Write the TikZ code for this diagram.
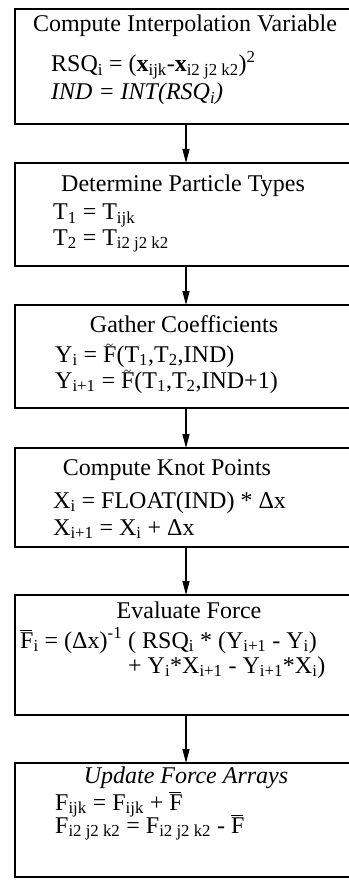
\documentclass[tikz,border=0pt]{standalone}
\usepackage{fontspec}
\setmainfont{Liberation Serif}
\usepackage{tikz}
\usetikzlibrary{arrows.meta, positioning}
\newcommand{\dn}[1]{\textsubscript{#1}}
\newcommand{\up}[1]{\textsuperscript{#1}}
% F with a bar / a tilde sitting close on top
\newcommand{\Fbar}{\leavevmode\smash{\rlap{\rule[16.8pt]{12pt}{1.1pt}}}F}
\newcommand{\Ftil}{\leavevmode\smash{\rlap{\hbox to 13pt{\hss\raisebox{13pt}{\fontsize{13}{13}\selectfont\char`\~}\hss}}}F}

\begin{document}
\begin{tikzpicture}[x=1pt, y=-1pt, font=\fontsize{24}{28}\selectfont,
    stepbox/.style={draw, line width=1.6pt, minimum width=342pt, inner sep=0pt, outer sep=0pt},
    title/.style={anchor=base, inner sep=0pt},
    eqline/.style={anchor=base west, inner sep=0pt},
    flow/.style={line width=1.4pt, -{Triangle[length=14pt, width=7pt]}}]
\useasboundingbox (0,0) rectangle (348,893);
% boxes: centre y / height
\foreach \nm/\cy/\ht in {b1/66.5/115, b2/214.5/103, b3/356.5/103,
    b4/497.5/99, b5/655/120, b6/820/114}
{
    \node[stepbox, minimum height=\ht pt] (\nm) at (186,\cy) {};
}
\foreach \a/\b in {b1/b2, b2/b3, b3/b4, b4/b5, b5/b6}
    \draw[flow] (\a.south) -- (\b.north);

% compute interpolation variable
\node[title] (t1) at (185,32) {Compute Interpolation Variable};
\node[eqline] (e1a) at (51,72) {RSQ\dn{i} = (\textbf{x}\dn{ijk}-\textbf{x}\dn{i2 j2 k2})\up{2}};
\node[eqline] (e1b) at (51,100) {\itshape IND = INT(RSQ\dn{i})};
% determine particle types
\node[title] (t2) at (183,192) {Determine Particle Types};
\node[eqline] (e2a) at (53,220) {T\dn{1} = T\dn{ijk}};
\node[eqline] (e2b) at (53,245) {T\dn{2} = T\dn{i2 j2 k2}};
% gather coefficients
\node[title] (t3) at (184,332) {Gather Coefficients};
\node[eqline] (e3a) at (55,362) {Y\dn{i} = \Ftil(T\dn{1},T\dn{2},IND)};
\node[eqline] (e3b) at (55,388) {Y\dn{i+1} = \Ftil(T\dn{1},T\dn{2},IND+1)};
% compute knot points
\node[title] (t4) at (167,475) {Compute Knot Points};
\node[eqline] (e4a) at (53,508) {X\dn{i} = FLOAT(IND) * Δx};
\node[eqline] (e4b) at (53,535) {X\dn{i+1} = X\dn{i} + Δx};
% evaluate force
\node[title] (t5) at (189,618) {Evaluate Force};
\node[eqline] (e5a) at (20,648) {\Fbar\dn{i} = (Δx)\up{-1} ( RSQ\dn{i} * (Y\dn{i+1} - Y\dn{i})};
\node[eqline] (e5b) at (128,673) {+ Y\dn{i}*X\dn{i+1} - Y\dn{i+1}*X\dn{i})};
% update force arrays
\node[title] (t6) at (186,783) {\itshape Update Force Arrays};
\node[eqline] (e6a) at (55,810) {F\dn{ijk} = F\dn{ijk} + \Fbar};
\node[eqline] (e6b) at (55,833) {F\dn{i2 j2 k2} = F\dn{i2 j2 k2} - \Fbar};
\end{tikzpicture}
\end{document}
